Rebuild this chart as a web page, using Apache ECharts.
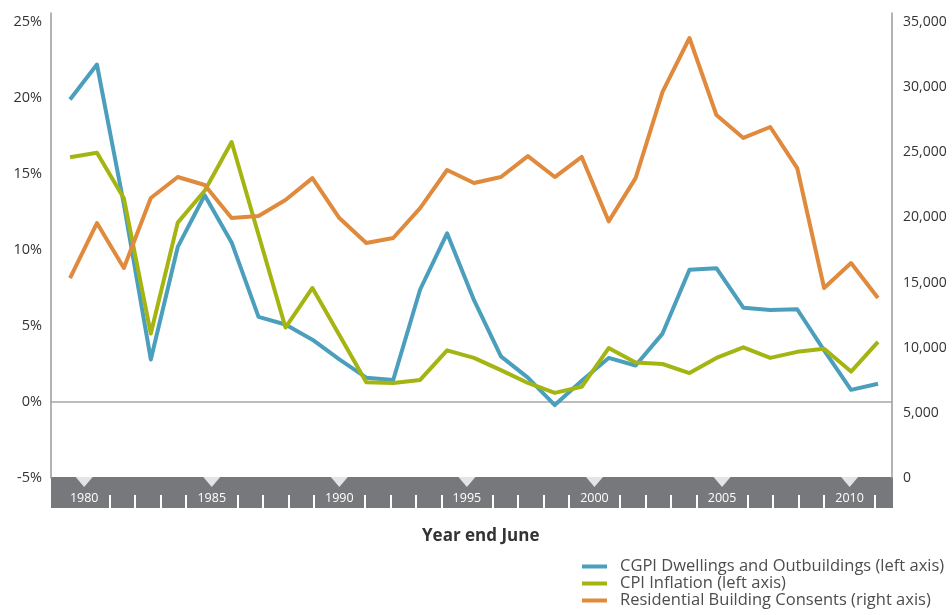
<!DOCTYPE html>
<html>
<head>
<meta charset="utf-8">
<title>CGPI, CPI and residential building consents</title>
<script src="https://cdn.jsdelivr.net/npm/echarts@6/dist/echarts.min.js"></script>
<style>
  html, body { margin: 0; padding: 0; background: #fff; }
  #chart { width: 952px; height: 615px; }
</style>
</head>
<body>
<div id="chart"></div>
<script>
// year end June
const years = [1980, 1981, 1982, 1983, 1984, 1985, 1986, 1987, 1988, 1989,
  1990, 1991, 1992, 1993, 1994, 1995, 1996, 1997, 1998, 1999,
  2000, 2001, 2002, 2003, 2004, 2005, 2006, 2007, 2008, 2009, 2010];

// % (left axis)
const cgpi = [19.9, 22.2, 13.0, 2.8, 10.2, 13.6, 10.5, 5.6, 5.1, 4.1,
  2.8, 1.6, 1.45, 7.4, 11.1, 6.7, 3.0, 1.6, -0.2, 1.4,
  2.9, 2.4, 4.5, 8.7, 8.8, 6.2, 6.05, 6.1, 3.4, 0.8, 1.2];
const cpi = [16.1, 16.4, 13.4, 4.5, 11.8, 13.9, 17.1, 11.0, 4.9, 7.5,
  4.4, 1.3, 1.25, 1.45, 3.4, 2.9, 2.1, 1.25, 0.6, 1.0,
  3.55, 2.6, 2.5, 1.9, 2.9, 3.6, 2.9, 3.3, 3.5, 2.0, 3.95];

// number of consents (right axis)
const consents = [15350, 19570, 16120, 21490, 23100, 22490, 19950, 20110, 21340, 23020,
  19950, 18040, 18420, 20720, 23640, 22640, 23100, 24710, 23100, 24640,
  19700, 23020, 29630, 33770, 27860, 26100, 26940, 23790, 14580, 16500, 13820];

// year band under the plot
const labelYears = [1980, 1985, 1990, 1995, 2000, 2005, 2010];
const tickYears = [1981, 1982, 1983, 1984, 1986, 1987, 1988, 1989,
  1991, 1992, 1993, 1994, 1996, 1997, 1998, 1999,
  2001, 2002, 2003, 2004, 2006, 2007, 2008, 2009, 2011];

const seriesNames = [
  'CGPI Dwellings and Outbuildings (left axis)',
  'CPI Inflation (left axis)',
  'Residential Building Consents (right axis)'
];
const colors = ['#4b9fbd', '#a4b512', '#e08a3d'];

const chart = echarts.init(document.getElementById('chart'));

const font = '"Open Sans", Lato, sans-serif';
const pair = arr => years.map((y, i) => [y, arr[i]]);

const option = {
  animation: false,
  textStyle: { fontFamily: font },
  title: {
    text: 'Year end June',
    left: 417,
    top: 523,
    textStyle: { fontSize: 17, fontWeight: 'bold', color: '#333', fontFamily: font }
  },
  legend: {
    data: seriesNames,
    orient: 'vertical',
    left: 582,
    top: 558,
    padding: 0,
    itemGap: 0,
    itemWidth: 25,
    itemHeight: 4,
    icon: 'rect',
    textStyle: { fontSize: 16.5, lineHeight: 16, color: '#4d4d4d', fontFamily: font, padding: [0, 0, 0, 8] }
  },
  grid: [
    { left: 51, right: 60, top: 13, bottom: 137 },
    // grey year band
    { left: 51, right: 59, top: 477, height: 31, show: true, backgroundColor: '#77787b', borderWidth: 0 }
  ],
  xAxis: [
    {
      type: 'value',
      gridIndex: 0,
      min: 1979.294,
      max: 2010.52,
      axisLine: { onZero: true, onZeroAxisIndex: 0, lineStyle: { color: '#a8a8a8', width: 1.5 } },
      axisTick: { show: false },
      axisLabel: { show: false },
      splitLine: { show: false }
    },
    {
      type: 'value',
      gridIndex: 1,
      min: 1978.7,
      max: 2011.7,
      axisLine: { show: false },
      axisTick: {
        inside: true,
        length: 13,
        customValues: tickYears,
        lineStyle: { color: '#fff', width: 2 }
      },
      axisLabel: {
        inside: true,
        margin: 3,
        customValues: labelYears,
        formatter: v => String(v),
        color: '#fff',
        fontSize: 12.5,
        fontFamily: font
      },
      splitLine: { show: false }
    }
  ],
  yAxis: [
    {
      type: 'value',
      gridIndex: 0,
      position: 'left',
      min: -5,
      max: 25.59,
      interval: 5,
      axisLine: { show: true, lineStyle: { color: '#9a9a9a', width: 1.5 } },
      axisTick: { show: false },
      axisLabel: {
        showMaxLabel: false,
        formatter: '{value}%',
        margin: 9,
        padding: [7, 0, 0, 0],
        color: '#333',
        fontSize: 14.5,
        fontFamily: font
      },
      splitLine: { show: false }
    },
    {
      type: 'value',
      gridIndex: 0,
      position: 'right',
      min: 0,
      max: 35690,
      interval: 5000,
      axisLine: { show: true, lineStyle: { color: '#9a9a9a', width: 1.5 } },
      axisTick: { show: false },
      axisLabel: {
        showMaxLabel: false,
        formatter: v => v.toLocaleString('en-US'),
        margin: 11,
        padding: [4, 0, 0, 0],
        color: '#333',
        fontSize: 14,
        fontFamily: font
      },
      splitLine: { show: false }
    },
    { type: 'value', gridIndex: 1, min: 0, max: 1, show: false }
  ],
  series: [
    {
      name: seriesNames[0],
      type: 'line',
      xAxisIndex: 0,
      yAxisIndex: 0,
      data: pair(cgpi),
      symbol: 'none',
      color: colors[0],
      lineStyle: { width: 4, join: 'round' }
    },
    {
      name: seriesNames[1],
      type: 'line',
      xAxisIndex: 0,
      yAxisIndex: 0,
      data: pair(cpi),
      symbol: 'none',
      color: colors[1],
      lineStyle: { width: 4, join: 'round' }
    },
    {
      name: seriesNames[2],
      type: 'line',
      xAxisIndex: 0,
      yAxisIndex: 1,
      data: pair(consents),
      symbol: 'none',
      color: colors[2],
      lineStyle: { width: 4, join: 'round' }
    },
    {
      // white notches on top of the year band
      type: 'scatter',
      xAxisIndex: 1,
      yAxisIndex: 2,
      data: labelYears.map(y => [y, 1]),
      symbol: 'triangle',
      symbolRotate: 180,
      symbolSize: [34, 20],
      itemStyle: { color: '#fff' },
      clip: false,
      silent: true,
      z: 5
    }
  ]
};

chart.setOption(option);
</script>
</body>
</html>
